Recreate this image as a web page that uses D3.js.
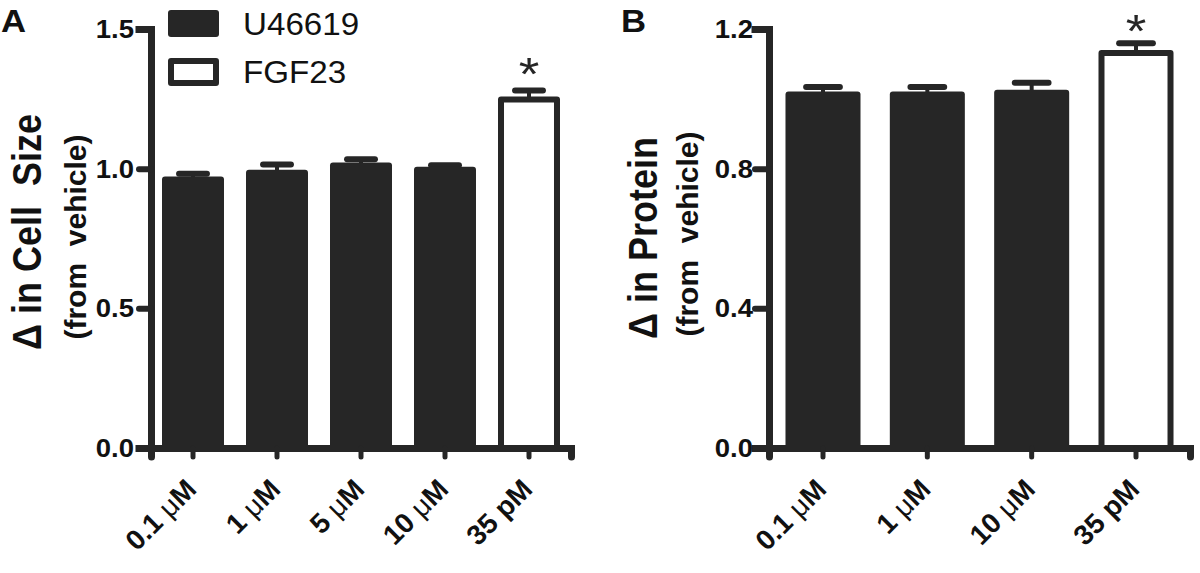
<!DOCTYPE html>
<html>
<head>
<meta charset="utf-8">
<script src="https://cdn.jsdelivr.net/npm/d3@7/dist/d3.min.js"></script>
<style>
  html, body { margin: 0; padding: 0; background: #fff; }
  svg { display: block; font-family: "Liberation Sans", Arial, sans-serif; }
</style>
</head>
<body>
<svg id="chart" width="1200" height="573"></svg>
<script>
// ---- Data ----
const seriesNames = ["U46619", "FGF23"];

const catsA = ["0.1 \u03BCM", "1 \u03BCM", "5 \u03BCM", "10 \u03BCM", "35 pM"];
const meanA = [0.972, 0.996, 1.022, 1.007, 1.258];
const semA  = [0.010, 0.019, 0.012, 0.005, 0.022];
const groupA = ["U46619", "U46619", "U46619", "U46619", "FGF23"];
const sigA = [false, false, false, false, true];
const ticksA = [0.0, 0.5, 1.0, 1.5];

const catsB = ["0.1 \u03BCM", "1 \u03BCM", "10 \u03BCM", "35 pM"];
const meanB = [1.021, 1.021, 1.026, 1.140];
const semB  = [0.013, 0.013, 0.020, 0.019];
const groupB = ["U46619", "U46619", "U46619", "FGF23"];
const sigB = [false, false, false, true];
const ticksB = [0.0, 0.4, 0.8, 1.2];

const titleA = ["\u0394 in Cell  Size", "(from  vehicle)"];
const titleB = ["\u0394 in Protein", "(from  vehicle)"];

// ---- Drawing ----
const INK = "#262626";
const TXT = "#111";
const svg = d3.select("#chart");

function labelWithMu(sel, s) {
  const parts = s.split("\u03BC");
  sel.append("tspan").text(parts[0]);
  if (parts.length > 1) {
    sel.append("tspan").attr("font-weight", "normal").text("\u03BC");
    sel.append("tspan").text(parts[1]);
  }
}

function panel(cfg) {
  const g = svg.append("g");
  const y = d3.scaleLinear().domain([0, cfg.ymax]).range([448, 29]);
  const x = d3.scaleBand().domain(cfg.cats).range(cfg.xr)
    .paddingInner(cfg.pi).paddingOuter(cfg.po);
  const bw = x.bandwidth();

  cfg.cats.forEach((c, i) => {
    const open = cfg.group[i] === "FGF23";
    const v = cfg.mean[i], e = cfg.sem[i];
    const x0 = x(c), yt = y(v);
    const cx = x0 + bw / 2;
    g.append("line").attr("x1", cx).attr("x2", cx)
      .attr("y1", yt + 2).attr("y2", y(v + e))
      .attr("stroke", INK).attr("stroke-width", 4);
    const hw = bw * 0.225;
    g.append("line").attr("x1", cx - hw).attr("x2", cx + hw)
      .attr("y1", y(v + e)).attr("y2", y(v + e))
      .attr("stroke", INK).attr("stroke-width", 6).attr("stroke-linecap", "round");
    if (open) {
      g.append("rect").attr("x", x0 + 3).attr("y", yt + 3)
        .attr("width", bw - 6).attr("height", y(0) - yt - 3)
        .attr("fill", "#fff").attr("stroke", INK).attr("stroke-width", 6)
        .attr("stroke-linejoin", "round");
    } else {
      g.append("rect").attr("x", x0).attr("y", yt)
        .attr("width", bw).attr("height", y(0) - yt)
        .attr("rx", 3).attr("fill", INK);
    }
    if (cfg.sig[i]) {
      g.append("text")
        .attr("transform", `translate(${cx},${y(v + e) + cfg.starDy}) scale(1.15,1)`)
        .attr("text-anchor", "middle").attr("font-size", 46)
        .attr("fill", INK).text("*");
    }
  });

  // y axis
  const ya = g.append("g").attr("transform", `translate(${cfg.xr[0]},0)`)
    .call(d3.axisLeft(y).tickValues(cfg.ticks).tickFormat(d3.format(".1f"))
      .tickSizeOuter(0).tickSize(cfg.tick));
  ya.select(".domain").attr("stroke", INK).attr("stroke-width", 7).attr("stroke-linecap", "square");
  ya.selectAll(".tick line").attr("stroke", INK).attr("stroke-width", 6).attr("stroke-linecap", "round");
  ya.selectAll(".tick text").remove();
  cfg.ticks.forEach(t => {
    g.append("text")
      .attr("transform", `translate(${cfg.xr[0] - cfg.tick - cfg.tpad},${y(t) + 9}) scale(1.1,1)`)
      .attr("text-anchor", "end").attr("font-size", 25).attr("font-weight", "bold")
      .attr("fill", TXT).text(d3.format(".1f")(t));
  });

  // x axis
  const xa = g.append("g").attr("transform", `translate(0,${y(0)})`)
    .call(d3.axisBottom(x).tickSizeOuter(0).tickSize(9));
  xa.select(".domain").attr("stroke", INK).attr("stroke-width", 7).attr("stroke-linecap", "round");
  xa.selectAll(".tick line").attr("stroke", INK).attr("stroke-width", 5).attr("stroke-linecap", "round");
  xa.selectAll(".tick text").remove();
  cfg.cats.forEach(c => {
    const cx = x(c) + bw / 2;
    const t = g.append("text")
      .attr("transform", `translate(${cx + 5},491) rotate(-45)`)
      .attr("text-anchor", "end").attr("font-size", 28).attr("font-weight", "bold")
      .attr("fill", TXT);
    labelWithMu(t, c);
  });

  // y titles
  g.append("text")
    .attr("transform", `translate(${cfg.t1x},${cfg.t1y}) rotate(-90) scale(1,1.15)`)
    .attr("text-anchor", "middle").attr("font-size", 36).attr("font-weight", "bold")
    .attr("fill", TXT).style("white-space", "pre").text(cfg.title[0]);
  g.append("text")
    .attr("transform", `translate(${cfg.t2x},${cfg.t2y}) rotate(-90)`)
    .attr("text-anchor", "middle").attr("font-size", 30).attr("font-weight", "bold")
    .attr("fill", TXT).style("white-space", "pre").text(cfg.title[1]);

  // panel letter
  g.append("text").attr("transform", `translate(${cfg.lx},32) scale(1.12,1)`)
    .attr("font-size", 31).attr("font-weight", "bold").attr("fill", TXT).text(cfg.letter);
  return { x, y };
}

panel({
  cats: catsA, mean: meanA, sem: semA, group: groupA, sig: sigA, ticks: ticksA,
  ymax: 1.5, xr: [151, 571], pi: 0.262, po: 0.131, tick: 12, tpad: 5,
  title: titleA, t1x: 41, t1y: 232, t2x: 86, t2y: 237,
  letter: "A", lx: 1, starDy: 0
});
panel({
  cats: catsB, mean: meanB, sem: semB, group: groupB, sig: sigB, ticks: ticksB,
  ymax: 1.2, xr: [769, 1190], pi: 0.281, po: 0.158, tick: 14, tpad: 2,
  title: titleB, t1x: 657, t1y: 238, t2x: 698, t2y: 234,
  letter: "B", lx: 621, starDy: 4
});

// legend
const leg = svg.append("g");
seriesNames.forEach((s, i) => {
  const yy = 10 + i * 48;
  if (i === 0) {
    leg.append("rect").attr("x", 168).attr("y", yy).attr("width", 51).attr("height", 27)
      .attr("rx", 3).attr("fill", INK);
  } else {
    leg.append("rect").attr("x", 171).attr("y", yy + 3).attr("width", 45).attr("height", 22)
      .attr("fill", "#fff").attr("stroke", INK).attr("stroke-width", 6).attr("stroke-linejoin", "round");
  }
  leg.append("text").attr("transform", `translate(243,${yy + 25}) scale(1.07,1)`)
    .attr("font-size", 31).attr("fill", TXT).text(s);
});
</script>
</body>
</html>
